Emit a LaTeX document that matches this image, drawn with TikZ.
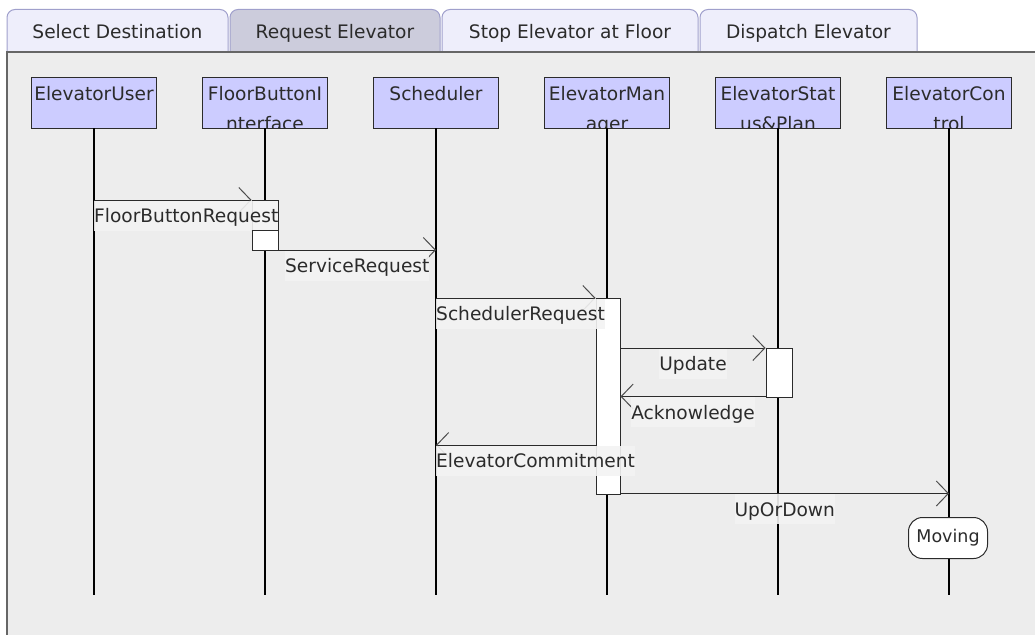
\documentclass[tikz,border=0pt]{standalone}
\usepackage{fontspec}
\setmainfont{DejaVu Sans}
\usetikzlibrary{arrows.meta,calc}

\definecolor{panelbg}{HTML}{EDEDED}
\definecolor{panelline}{HTML}{666666}
\definecolor{tabfill}{HTML}{EEEEFB}
\definecolor{tabsel}{HTML}{CCCCDC}
\definecolor{tabline}{HTML}{A0A0CC}
\definecolor{headfill}{HTML}{CCCCFF}
\definecolor{inkc}{HTML}{2B2B2B}
\definecolor{labelbg}{HTML}{F3F3F3}

\tikzset{
  every node/.style={font=\fontsize{18.6}{22}\selectfont, text=inkc},
  tabshape/.style={draw=tabline, line width=1pt, rounded corners=8pt},
  tabtext/.style={anchor=base, inner sep=0},
  headbox/.style={rectangle, fill=headfill, minimum width=124pt, minimum height=50pt, inner sep=0},
  headborder/.style={draw=inkc, line width=1pt},
  headtext/.style={anchor=base, inner sep=0},
  lifeline/.style={line width=2pt, draw=black},
  actbox/.style={rectangle, draw=inkc, fill=white, line width=1pt, inner sep=0},
  msg/.style={draw=inkc, line width=1pt,
    -{Straight Barb[length=12pt,width=25pt,line width=1pt,color=black!70]}},
  msglabel/.style={fill=labelbg, fill opacity=0.9, text opacity=1, inner xsep=0,
    inner ysep=0, minimum height=30pt, text height=16pt, text depth=2pt, yshift=-0.5pt},
  statebox/.style={rectangle, rounded corners=14pt, draw=inkc, fill=white, line width=1pt,
    minimum width=79pt, minimum height=41pt, inner sep=0, font=\fontsize{17.5}{20}\selectfont}
}

% lifeline head with one line of text
\newcommand\headone[3]{%
  \node[headbox] (#1) at (#2,103) {};
  \node[headtext] (#1-a) at (#2,100.5) {#3};
  \draw[headborder] (#1.south west) rectangle (#1.north east);
}
% lifeline head whose name wraps onto a clipped second line
\newcommand\headtwo[4]{%
  \node[headbox] (#1) at (#2,103) {};
  \begin{scope}
    \clip (#1.south west) rectangle (#1.north east);
    \node[headtext] (#1-a) at (#2,100.5) {#3};
    \node[headtext] (#1-b) at (#2,130.5) {#4};
  \end{scope}
  \draw[headborder] (#1.south west) rectangle (#1.north east);
}

\begin{document}
\begin{tikzpicture}[x=1pt,y=-1pt]
\useasboundingbox (0,0) rectangle (1035,634);
\fill[white] (0,0) rectangle (1035,634);

% tab strip
\filldraw[tabshape, fill=tabfill] (7,52) -- (7,9.5) -- (228,9.5) -- (228,52);
\filldraw[tabshape, fill=tabsel]  (230,52) -- (230,9.5) -- (440,9.5) -- (440,52);
\filldraw[tabshape, fill=tabfill] (442,52) -- (442,9.5) -- (698,9.5) -- (698,52);
\filldraw[tabshape, fill=tabfill] (700,52) -- (700,9.5) -- (917,9.5) -- (917,52);
\node[tabtext] (tabA) at (117.5,38.5) {Select Destination};
\node[tabtext] (tabB) at (335,38.5) {Request Elevator};
\node[tabtext] (tabC) at (570,38.5) {Stop Elevator at Floor};
\node[tabtext] (tabD) at (808.5,38.5) {Dispatch Elevator};

% diagram panel
\fill[panelbg] (7,52) rectangle (1040,640);
\draw[panelline, line width=2pt] (7,640) -- (7,52);
\draw[panelline, line width=1.2pt] (6,52) -- (1040,52);

% lifeline heads
\headone{h1}{94}{ElevatorUser}
\headtwo{h2}{265}{FloorButtonI}{nterface}
\headone{h3}{436}{Scheduler}
\headtwo{h4}{607}{ElevatorMan}{ager}
\headtwo{h5}{778}{ElevatorStat}{us\&Plan}
\headtwo{h6}{949}{ElevatorCon}{trol}

% lifelines
\foreach \n/\x in {h1/94,h2/265,h3/436,h4/607,h5/778,h6/949}{
  \coordinate (\n end) at (\x,595);
  \draw[lifeline] (\n.south) -- (\n end);
}

% activations
\node[actbox, minimum width=26pt, minimum height=50pt]  (a2) at (265,225) {};
\node[actbox, minimum width=24pt, minimum height=196pt] (a4) at (608,396) {};
\node[actbox, minimum width=26pt, minimum height=49pt]  (a5) at (779,372.5) {};

% message rows
\coordinate (y1) at (0,200);
\coordinate (y2) at (0,250);
\coordinate (y3) at (0,298);
\coordinate (y4) at (0,348);
\coordinate (y5) at (0,396.5);
\coordinate (y6) at (0,445);
\coordinate (y7) at (0,493.5);

% messages
\draw[msg] (h1 |- y1) -- (a2.west |- y1);
\draw[msg] (a2.east |- y2) -- (h3 |- y2);
\draw[msg] (h3 |- y3) -- (a4.west |- y3);
\draw[msg] (a4.east |- y4) -- (a5.west |- y4);
\draw[msg] (a5.west |- y5) -- (a4.east |- y5);
\draw[msg] (a4.west |- y6) -- (h3 |- y6);
\draw[msg] (a4.east |- y7) -- (h6 |- y7);

% message labels
\node[msglabel, anchor=north west] (l1) at (h1 |- y1) {FloorButtonRequest};
\node[msglabel, anchor=north] (l2) at ($(a2.east |- y2)!0.5!(h3 |- y2)$) {ServiceRequest};
\node[msglabel, anchor=north west] (l3) at (h3 |- y3) {SchedulerRequest};
\node[msglabel, anchor=north] (l4) at ($(a4.east |- y4)!0.5!(a5.west |- y4)$) {Update};
\node[msglabel, anchor=north] (l5) at ($(a4.east |- y5)!0.5!(a5.west |- y5)$) {Acknowledge};
\node[msglabel, anchor=north west] (l6) at (h3 |- y6) {ElevatorCommitment};
\node[msglabel, anchor=north] (l7) at ($(a4.east |- y7)!0.5!(h6 |- y7)$) {UpOrDown};
\draw[draw=inkc, line width=1pt] (a2.west |- l1.south) -- (a2.east |- l1.south);

% state on the controller lifeline
\node[statebox] (mv) at (948,538) {Moving};
\end{tikzpicture}
\end{document}
